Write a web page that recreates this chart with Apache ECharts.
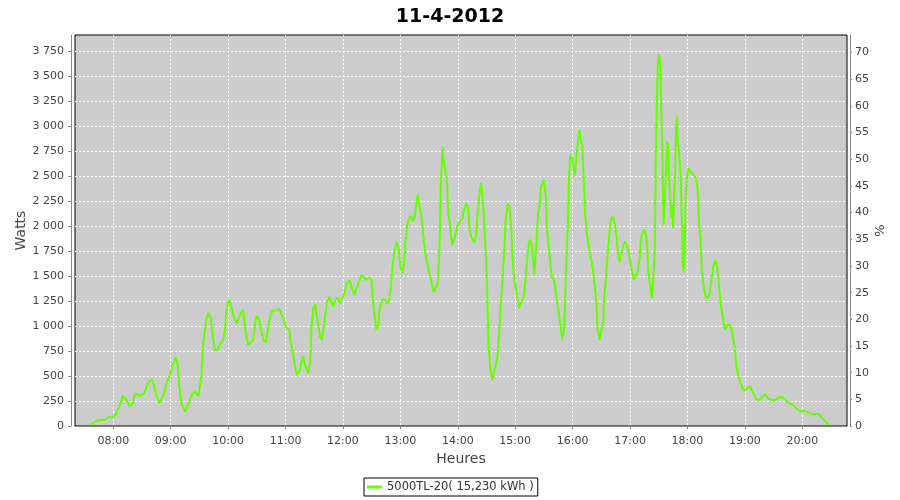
<!DOCTYPE html>
<html>
<head>
<meta charset="utf-8">
<script src="https://cdn.jsdelivr.net/npm/echarts@6/dist/echarts.min.js"></script>
<style>
html,body{margin:0;padding:0;background:#fff;}
#chart{width:900px;height:500px;}
</style>
</head>
<body>
<div id="chart"></div>
<script>
const chartTitle = '11-4-2012';
const seriesName = '5000TL-20( 15,230 kWh )';
const xTickLabels = ['08:00','09:00','10:00','11:00','12:00','13:00','14:00','15:00','16:00','17:00','18:00','19:00','20:00'];
const wattTicks = [0,250,500,750,1000,1250,1500,1750,2000,2250,2500,2750,3000,3250,3500,3750];
const pctTicks = [0,5,10,15,20,25,30,35,40,45,50,55,60,65,70];
const times = [
'07:36','07:44','07:51','07:55','08:00','08:03','08:07','08:10','08:14','08:17','08:20','08:23','08:25','08:28','08:32','08:36','08:40','08:42','08:45','08:48',
'08:50','08:53','08:56','08:59','09:03','09:05','09:07','09:09','09:11','09:15','09:18','09:22','09:25','09:29','09:30','09:32','09:34','09:37','09:39','09:42',
'09:44','09:46','09:49','09:51','09:55','09:57','09:58','10:01','10:03','10:06','10:09','10:11','10:15','10:16','10:18','10:21','10:23','10:26','10:29','10:30',
'10:32','10:34','10:37','10:40','10:41','10:44','10:46','10:50','10:53','10:55','10:58','11:00','11:04','11:05','11:08','11:10','11:12','11:15','11:18','11:19',
'11:21','11:24','11:26','11:27','11:29','11:31','11:33','11:36','11:38','11:40','11:43','11:46','11:48','11:50','11:52','11:54','11:57','11:59','12:01','12:04',
'12:07','12:09','12:12','12:14','12:16','12:19','12:22','12:24','12:27','12:30','12:31','12:33','12:35','12:37','12:38','12:41','12:44','12:46','12:48','12:50',
'12:52','12:54','12:56','12:58','12:59','13:00','13:02','13:04','13:05','13:07','13:09','13:11','13:13','13:15','13:17','13:18','13:20','13:22','13:24','13:26',
'13:28','13:31','13:33','13:35','13:37','13:39','13:41','13:42','13:44','13:45','13:47','13:49','13:50','13:52','13:54','13:55','13:57','14:00','14:02','14:05',
'14:07','14:09','14:11','14:12','14:14','14:17','14:19','14:20','14:22','14:24','14:25','14:27','14:29','14:31','14:32','14:34','14:36','14:38','14:41','14:43',
'14:45','14:47','14:49','14:50','14:52','14:54','14:56','14:57','14:59','15:02','15:04','15:06','15:09','15:11','15:13','15:15','15:17','15:19','15:20','15:22',
'15:24','15:26','15:27','15:30','15:32','15:33','15:36','15:38','15:41','15:42','15:44','15:46','15:48','15:49','15:51','15:52','15:53','15:55','15:56','15:57',
'15:58','16:00','16:02','16:03','16:05','16:07','16:09','16:10','16:12','16:13','16:15','16:17','16:19','16:21','16:23','16:25','16:26','16:28','16:30','16:32',
'16:33','16:35','16:37','16:39','16:40','16:42','16:44','16:46','16:47','16:49','16:51','16:53','16:55','16:57','16:59','17:01','17:03','17:04','17:06','17:08',
'17:10','17:11','17:13','17:15','17:17','17:18','17:19','17:21','17:22','17:23','17:24','17:26','17:27','17:28','17:29','17:30','17:31','17:32','17:33','17:34',
'17:35','17:36','17:37','17:38','17:39','17:40','17:41','17:42','17:43','17:44','17:45','17:46','17:47','17:48','17:49','17:50','17:51','17:53','17:54','17:55',
'17:56','17:57','17:58','17:59','18:01','18:03','18:04','18:06','18:08','18:10','18:11','18:12','18:14','18:15','18:17','18:19','18:21','18:23','18:25','18:27',
'18:29','18:31','18:33','18:35','18:37','18:39','18:41','18:43','18:44','18:46','18:48','18:50','18:51','18:53','18:55','18:57','18:59','19:02','19:04','19:06',
'19:09','19:12','19:15','19:18','19:21','19:24','19:28','19:31','19:35','19:38','19:42','19:45','19:49','19:52','19:56','19:59','20:03','20:06','20:10','20:13',
'20:17','20:19','20:22','20:25','20:29'
];
const watts = [
10,60,60,87,87,127,210,300,260,203,220,327,343,303,327,427,467,427,310,227,
220,327,443,510,627,687,627,393,227,143,210,310,350,300,310,493,827,1060,1133,1077,
893,760,760,810,867,993,1160,1260,1210,1093,1027,1077,1167,1143,960,810,793,860,1077,1100,
1077,977,860,837,943,1093,1150,1160,1173,1143,1060,993,960,860,710,593,510,560,703,710,
593,527,660,993,1177,1220,1093,893,867,993,1227,1293,1243,1193,1253,1287,1227,1210,1310,1427,
1460,1393,1310,1327,1427,1510,1487,1460,1487,1460,1293,1093,960,1010,1160,1270,1260,1220,1253,1393,
1627,1760,1843,1780,1693,1597,1530,1630,1830,1997,2080,2103,2047,2097,2247,2313,2330,2097,1897,1730,
1630,1497,1413,1340,1337,1430,1797,2330,2797,2663,2563,2397,2130,1997,1813,1813,1897,2013,2030,2080,
2180,2230,2163,1997,1897,1837,1897,2030,2263,2430,2397,2130,1763,1263,830,563,463,480,663,897,
1230,1530,1830,2063,2223,2197,1963,1697,1463,1297,1180,1180,1297,1497,1730,1863,1830,1630,1513,1813,
2130,2247,2397,2463,2297,1997,1697,1497,1447,1363,1230,1097,963,865,960,1197,1550,2000,2430,2650,
2713,2663,2497,2580,2797,2963,2963,2813,2380,2113,1913,1780,1680,1580,1413,1213,980,863,880,1047,
1280,1513,1780,1980,2063,2097,2030,1897,1747,1647,1730,1813,1847,1797,1713,1597,1513,1463,1480,1547,
1680,1847,1930,1963,1897,1780,1547,1413,1330,1280,1413,1847,2747,3247,3613,3713,3680,3447,3047,2580,
2013,2213,2413,2680,2847,2747,2480,2247,2080,2213,1980,2313,2480,2947,3097,2813,2780,2480,2080,1613,
1547,1747,2247,2447,2580,2580,2530,2513,2497,2413,2313,2047,1813,1550,1380,1300,1275,1310,1460,1600,
1660,1600,1400,1193,1093,960,977,1027,1043,977,860,727,593,510,443,393,350,377,393,393,
327,267,260,293,317,277,260,260,283,293,270,233,217,193,160,143,153,133,117,120,
120,100,67,33,10
];

function toMin(s){const p=s.split(':');return (+p[0])*60+(+p[1]);}
function fmtMin(v){const h=Math.floor(v/60),m=Math.round(v-h*60);return (h<10?'0':'')+h+':'+(m<10?'0':'')+m;}
function fmtW(v){return String(v).replace(/\B(?=(\d{3})+(?!\d))/g,' ');}

const data = times.map((t,i)=>[toMin(t), watts[i]]);
const xTickValues = xTickLabels.map(toMin);

const font = 'DejaVu Sans';
const chart = echarts.init(document.getElementById('chart'), null, {renderer:'canvas'});
chart.setOption({
  animation:false,
  backgroundColor:'#ffffff',
  title:{text:chartTitle,left:'center',top:3,textStyle:{fontFamily:font,fontSize:19,fontWeight:'bold',color:'#000'}},
  legend:{
    data:[seriesName],left:364,top:478,padding:[3,4,3,3],
    borderColor:'#000',borderWidth:1,backgroundColor:'#fff',borderRadius:0,
    itemWidth:15,itemHeight:3,itemGap:4,
    icon:'rect',
    textStyle:{fontFamily:font,fontSize:11.5,color:'#333'}
  },
  grid:{left:75,right:53,top:35,bottom:74,show:true,backgroundColor:'#cccccc',borderColor:'#000',borderWidth:1,containLabel:false,outerBoundsMode:'none'},
  xAxis:{
    type:'value',min:440,max:1246.7,offset:4,
    name:'Heures',nameLocation:'middle',nameGap:22,nameMoveOverlap:false,
    nameTextStyle:{fontFamily:font,fontSize:14,color:'#444'},
    axisLine:{show:true,lineStyle:{color:'#888',width:1}},
    axisTick:{show:true,length:3,lineStyle:{color:'#888'},customValues:xTickValues},
    axisLabel:{customValues:xTickValues,formatter:fmtMin,fontFamily:font,fontSize:11,color:'#444',margin:6},
    splitLine:{show:true,lineStyle:{color:'#ffffff',type:[2,2],width:1}}
  },
  yAxis:[{
    type:'value',min:0,max:3913,position:'left',offset:4,
    name:'Watts',nameLocation:'middle',nameGap:43,nameRotate:90,nameMoveOverlap:false,
    nameTextStyle:{fontFamily:font,fontSize:14,color:'#444'},
    axisLine:{show:true,lineStyle:{color:'#888',width:1}},
    axisTick:{show:true,length:3,lineStyle:{color:'#888'},customValues:wattTicks},
    axisLabel:{customValues:wattTicks,formatter:fmtW,fontFamily:font,fontSize:11,color:'#444',margin:7},
    splitLine:{show:true,lineStyle:{color:'#ffffff',type:[2,2],width:1}}
  },{
    type:'value',min:0,max:73.3,position:'right',offset:3,
    name:'%',nameLocation:'middle',nameGap:24,nameRotate:90,nameMoveOverlap:false,
    nameTextStyle:{fontFamily:font,fontSize:13,color:'#444'},
    axisLine:{show:true,lineStyle:{color:'#888',width:1}},
    axisTick:{show:true,length:2,lineStyle:{color:'#888'},customValues:pctTicks},
    axisLabel:{customValues:pctTicks,fontFamily:font,fontSize:11,color:'#444',margin:5},
    splitLine:{show:false}
  }],
  series:[{
    name:seriesName,type:'line',data:data,yAxisIndex:0,
    showSymbol:false,symbol:'none',
    lineStyle:{color:'#66ff00',width:2},itemStyle:{color:'#66ff00'}
  }]
});
</script>
</body>
</html>
